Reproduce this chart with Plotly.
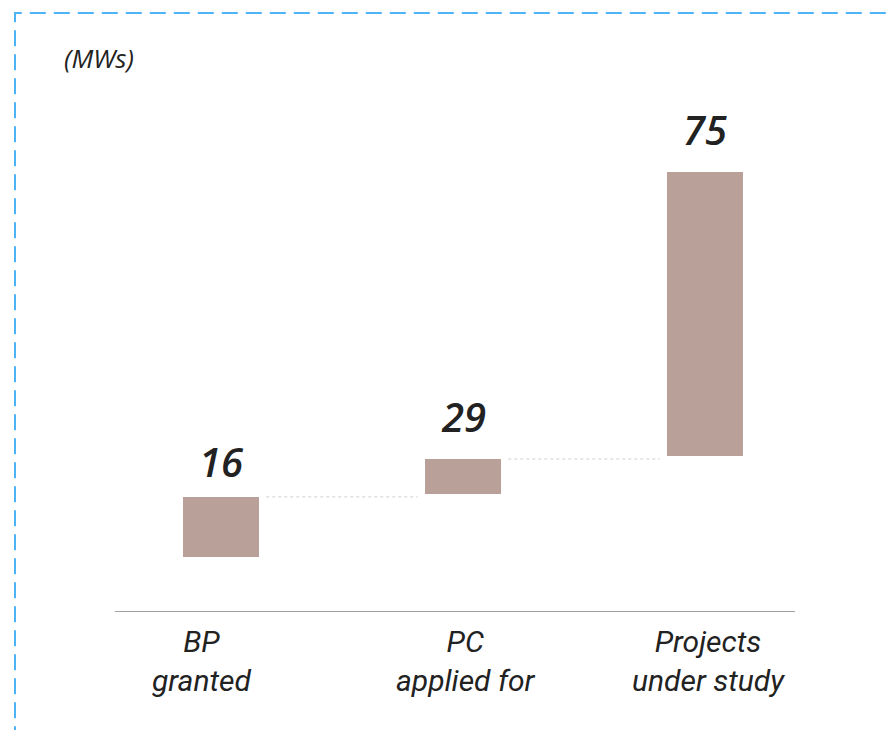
import plotly.graph_objects as go

# ---- data ----
categories = ["BP<br>granted", "PC<br>applied for", "Projects<br>under study"]
value_labels = ["16", "29", "75"]
bar_base = [14.7, 31.5, 41.7]      # floating bar bottoms (chart units)
bar_height = [16.0, 9.3, 75.6]     # floating bar heights (chart units)
unit_label = "(MWs)"

# ---- styling ----
positions = list(range(len(categories)))
bar_width = 0.314
bar_color = "#b9a098"
text_color = "#222222"
cat_xshift = [-20, 3, 3]       # pixel nudges of category labels
val_yshift = [6, 13, 13]       # pixel gap of value labels above bars

fig = go.Figure()

fig.add_trace(go.Bar(
    x=positions, y=bar_height, base=bar_base, width=bar_width,
    marker=dict(color=bar_color, line=dict(width=0)),
    hoverinfo="skip", showlegend=False,
))

# connector lines from top of bar i to start of bar i+1
gap = 0.03
for i in range(len(positions) - 1):
    top = bar_base[i] + bar_height[i]
    fig.add_trace(go.Scatter(
        x=[positions[i] + bar_width / 2 + gap, positions[i + 1] - bar_width / 2 - gap],
        y=[top, top], mode="lines",
        line=dict(color="#cfcfcf", width=1, dash="dot"),
        hoverinfo="skip", showlegend=False,
    ))

# value labels above bars
for p, b, h, t, ys in zip(positions, bar_base, bar_height, value_labels, val_yshift):
    fig.add_annotation(
        x=p, y=b + h, text=t, showarrow=False, xref="x", yref="y",
        yanchor="bottom", yshift=ys,
        font=dict(family="Open Sans", size=40, color=text_color, style="italic", weight=600),
    )

# category labels below baseline
for p, c, xs in zip(positions, categories, cat_xshift):
    fig.add_annotation(
        x=p, y=0, text=c, showarrow=False, xref="x", yref="y",
        yanchor="top", yshift=-10, xshift=xs, align="center",
        font=dict(family="Roboto", size=30, color=text_color, style="italic"),
    )

# unit label
fig.add_annotation(
    x=62 / 893, y=1 - 58 / 730, xref="paper", yref="paper", text=unit_label,
    showarrow=False, xanchor="left", yanchor="middle",
    font=dict(family="Open Sans", size=26, color=text_color, style="italic"),
)

shapes = [
    # baseline
    dict(type="line", xref="paper", yref="y", x0=115 / 893, x1=795 / 893, y0=0, y1=0,
         line=dict(color="#808080", width=1.5)),
    # dashed frame (right/bottom edges fall outside view)
    dict(type="rect", xref="paper", yref="paper", x0=15 / 893, x1=1.05, y0=-0.05, y1=1 - 13 / 730,
         line=dict(color="#4db3f5", width=2, dash="16px,8px"), fillcolor="rgba(0,0,0,0)"),
]

fig.update_layout(
    width=893, height=730,
    margin=dict(l=0, r=0, t=0, b=0, autoexpand=False),
    paper_bgcolor="white", plot_bgcolor="white",
    shapes=shapes,
    bargap=0,
    xaxis=dict(
        range=[-221 / 242, (893 - 221) / 242],
        showgrid=False, zeroline=False, showline=False, ticks="",
        showticklabels=False, automargin=False,
    ),
    yaxis=dict(
        domain=[1 - 612 / 730, 1],
        range=[0, 612 / 3.75],
        showgrid=False, zeroline=False, showline=False, showticklabels=False, ticks="",
        automargin=False,
    ),
)

fig.write_html("out.html")
